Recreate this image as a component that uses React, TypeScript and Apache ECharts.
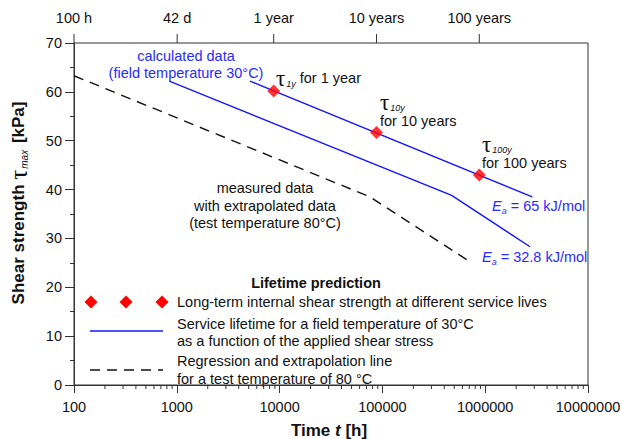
import React, { useEffect, useRef } from "react";
import * as echarts from "echarts";

// Long-term internal shear strength at 1, 10 and 100 years (hours, kPa)
const serviceLifeHours = [8760, 87600, 876000];
const serviceLifeStrength = [60.2, 51.7, 43.0];

// Service lifetime at 30 °C, Ea = 65 kJ/mol
const ea65Hours = [5150, 2870000];
const ea65Strength = [62.2, 38.5];

// Service lifetime at 30 °C, Ea = 32.8 kJ/mol
const ea328Hours = [845, 472000, 2730000];
const ea328Strength = [62.2, 38.8, 28.3];

// Regression / extrapolation at 80 °C test temperature
const testHours = [100, 75700, 740000];
const testStrength = [63.3, 38.5, 25.0];

// Secondary time scale along the top edge
const lifeTickHours = [100, 1008, 8760, 87600, 876000];
const lifeTickLabels = ["100 h", "42 d", "1 year", "10 years", "100 years"];

// Log-axis minor tick positions (2..9 within each decade)
const decadeStarts = [100, 1000, 10000, 100000, 1000000];
const minorMultipliers = [2, 3, 4, 5, 6, 7, 8, 9];

const Y_MIN = 0;
const Y_MAX = 70;

const SANS = '"Liberation Sans", Arial, Helvetica, sans-serif';
const SERIF = '"Liberation Serif", "Times New Roman", serif';
const FS = 14.5;
const BLUE = "#1414ff";
const TEXT_BLUE = "#2a2aff";
const RED = "#ff0000";
const INK = "#111111";
const AXIS = "#333333";

const zip = (xs: number[], ys: number[]) => xs.map((x, i) => [x, ys[i]]);

function diamond(cx: number, cy: number, r: number) {
  return {
    type: "polygon",
    shape: { points: [[cx, cy - r], [cx + r, cy], [cx, cy + r], [cx - r, cy]] },
    style: { fill: RED },
  };
}

function plainText(text: string, x: number, y: number, opts: any = {}) {
  return {
    type: "text",
    x,
    y,
    style: {
      text,
      font: `${opts.weight || "normal"} ${opts.size || FS}px ${SANS}`,
      fill: opts.fill || INK,
      align: opts.align || "left",
      verticalAlign: "middle",
    },
  };
}

function tauLabel(sub: string, x: number, y: number, tail = "") {
  return {
    type: "text",
    x,
    y,
    style: {
      text: `{t|τ}{s|${sub}}` + (tail ? `{n| ${tail}}` : ""),
      align: "left",
      verticalAlign: "middle",
      rich: {
        t: { fontFamily: SERIF, fontSize: 23, fill: INK },
        s: {
          fontFamily: SANS,
          fontSize: 9,
          fontStyle: "italic",
          fill: INK,
          padding: [12, 0, 0, 1],
        },
        n: { fontFamily: SANS, fontSize: FS, fill: INK },
      },
    },
  };
}

function eaLabel(value: string, x: number, y: number) {
  return {
    type: "text",
    x,
    y,
    style: {
      text: `{e|E}{a|a}{n| = ${value} kJ/mol}`,
      align: "left",
      verticalAlign: "middle",
      rich: {
        e: { fontFamily: SANS, fontSize: FS, fontStyle: "italic", fill: TEXT_BLUE },
        a: {
          fontFamily: SANS,
          fontSize: 9,
          fontStyle: "italic",
          fill: TEXT_BLUE,
          padding: [10, 0, 0, 0],
        },
        n: { fontFamily: SANS, fontSize: FS, fill: TEXT_BLUE },
      },
    },
  };
}

export default function App() {
  const ref = useRef<HTMLDivElement>(null);

  useEffect(() => {
    document.body.style.margin = "0";
    if (!ref.current) return;
    const chart = echarts.init(ref.current, undefined, { renderer: "svg" });

    const minorTicks: number[][] = [];
    decadeStarts.forEach((d) => minorMultipliers.forEach((k) => minorTicks.push([k * d, Y_MIN])));

    const option: any = {
      animation: false,
      backgroundColor: "#ffffff",
      textStyle: { fontFamily: SANS },
      grid: {
        left: 74,
        right: 32,
        top: 43,
        bottom: 54,
        show: true,
        borderColor: AXIS,
        borderWidth: 1,
        backgroundColor: "transparent",
        containLabel: false,
        outerBoundsMode: "none",
      },
      xAxis: {
        type: "log",
        logBase: 10,
        min: 100,
        max: 10000000,
        axisLine: { show: true, onZero: false, lineStyle: { color: AXIS, width: 1 } },
        axisTick: { show: true, length: 8, lineStyle: { color: AXIS } },
        minorTick: { show: false },
        splitLine: { show: false },
        minorSplitLine: { show: false },
        axisLabel: {
          fontSize: FS,
          color: INK,
          margin: 14,
          fontFamily: SANS,
          showMinLabel: true,
          showMaxLabel: true,
          formatter: (v: number) => String(Math.round(v)),
        },
      },
      yAxis: {
        type: "value",
        min: Y_MIN,
        max: Y_MAX,
        interval: 10,
        axisLine: { show: true, lineStyle: { color: AXIS, width: 1 } },
        axisTick: { show: true, length: 9, lineStyle: { color: AXIS } },
        minorTick: { show: true, splitNumber: 2, length: 4, lineStyle: { color: AXIS } },
        splitLine: { show: false },
        axisLabel: { fontSize: FS, color: INK, margin: 12, fontFamily: SANS },
      },
      series: [
        {
          name: "Ea 65",
          type: "line",
          data: zip(ea65Hours, ea65Strength),
          symbol: "none",
          lineStyle: { color: BLUE, width: 1.4 },
          z: 3,
        },
        {
          name: "Ea 32.8",
          type: "line",
          data: zip(ea328Hours, ea328Strength),
          symbol: "none",
          lineStyle: { color: BLUE, width: 1.4 },
          z: 3,
        },
        {
          name: "80 °C",
          type: "line",
          data: zip(testHours, testStrength),
          symbol: "none",
          lineStyle: { color: INK, width: 1.4, type: [10, 7] },
          z: 3,
        },
        {
          name: "service lives",
          type: "scatter",
          data: zip(serviceLifeHours, serviceLifeStrength),
          symbol: "diamond",
          symbolSize: 13,
          itemStyle: { color: RED },
          z: 5,
        },
        {
          name: "top scale",
          type: "custom",
          clip: false,
          silent: true,
          data: lifeTickHours.map((h) => [h, Y_MAX]),
          renderItem: (params: any, api: any) => {
            const p = api.coord([api.value(0), Y_MAX]);
            return {
              type: "group",
              children: [
                {
                  type: "line",
                  shape: { x1: p[0], y1: p[1], x2: p[0], y2: p[1] - 9 },
                  style: { stroke: AXIS, lineWidth: 1 },
                },
                {
                  type: "text",
                  x: p[0],
                  y: p[1] - 25,
                  style: {
                    text: lifeTickLabels[params.dataIndex],
                    font: `${FS}px ${SANS}`,
                    fill: INK,
                    align: "center",
                    verticalAlign: "middle",
                  },
                },
              ],
            };
          },
        },
        {
          name: "minor ticks",
          type: "custom",
          clip: false,
          silent: true,
          data: minorTicks,
          renderItem: (params: any, api: any) => {
            const p = api.coord([api.value(0), Y_MIN]);
            return {
              type: "line",
              shape: { x1: p[0], y1: p[1], x2: p[0], y2: p[1] + 4 },
              style: { stroke: AXIS, lineWidth: 1 },
            };
          },
        },
      ],
      graphic: [
        // axis titles
        {
          type: "text",
          x: 329,
          y: 430,
          style: {
            text: "{b|Time }{i|t}{b| [h]}",
            align: "center",
            verticalAlign: "middle",
            rich: {
              b: { fontFamily: SANS, fontSize: 17, fontWeight: "bold", fill: INK },
              i: { fontFamily: SANS, fontSize: 17, fontWeight: "bold", fontStyle: "italic", fill: INK },
            },
          },
        },
        {
          type: "text",
          x: 18,
          y: 203,
          rotation: Math.PI / 2,
          style: {
            text: "{b|Shear strength }{t|τ}{s|max}{b| [kPa]}",
            align: "center",
            verticalAlign: "middle",
            rich: {
              b: { fontFamily: SANS, fontSize: 17, fontWeight: "bold", fill: INK },
              t: { fontFamily: SERIF, fontSize: 25, fill: INK },
              s: {
                fontFamily: SANS,
                fontSize: 10,
                fontStyle: "italic",
                fill: INK,
                padding: [12, 2, 0, 1],
              },
            },
          },
        },
        // curve annotations
        plainText("calculated data", 186, 56, { align: "center", fill: TEXT_BLUE }),
        plainText("(field temperature 30°C)", 186, 73, { align: "center", fill: TEXT_BLUE }),
        tauLabel("1y", 276, 78, "for 1 year"),
        tauLabel("10y", 380, 102),
        plainText("for 10 years", 380, 121),
        tauLabel("100y", 482, 144),
        plainText("for 100 years", 482, 163),
        eaLabel("65", 492, 206),
        eaLabel("32.8", 482, 257),
        plainText("measured data", 265, 188, { align: "center" }),
        plainText("with extrapolated data", 265, 206, { align: "center" }),
        plainText("(test temperature 80°C)", 265, 223, { align: "center" }),
        // legend
        plainText("Lifetime prediction", 316, 283, { align: "center", weight: "bold" }),
        diamond(91, 302, 6.5),
        diamond(126, 302, 6.5),
        diamond(162, 302, 6.5),
        plainText("Long-term internal shear strength at different service lives", 177, 302),
        {
          type: "line",
          shape: { x1: 90, y1: 331, x2: 163, y2: 331 },
          style: { stroke: BLUE, lineWidth: 1.4 },
        },
        plainText("Service lifetime for a field temperature of 30°C", 177, 324),
        plainText("as a function of the applied shear stress", 177, 341),
        {
          type: "line",
          shape: { x1: 90, y1: 370, x2: 163, y2: 370 },
          style: { stroke: INK, lineWidth: 1.4, lineDash: [10, 7] },
        },
        plainText("Regression and extrapolation line", 177, 361),
        plainText("for a test temperature of 80 °C", 177, 379),
      ],
    };

    chart.setOption(option);
    return () => chart.dispose();
  }, []);

  return <div ref={ref} style={{ width: 620, height: 439 }} />;
}
